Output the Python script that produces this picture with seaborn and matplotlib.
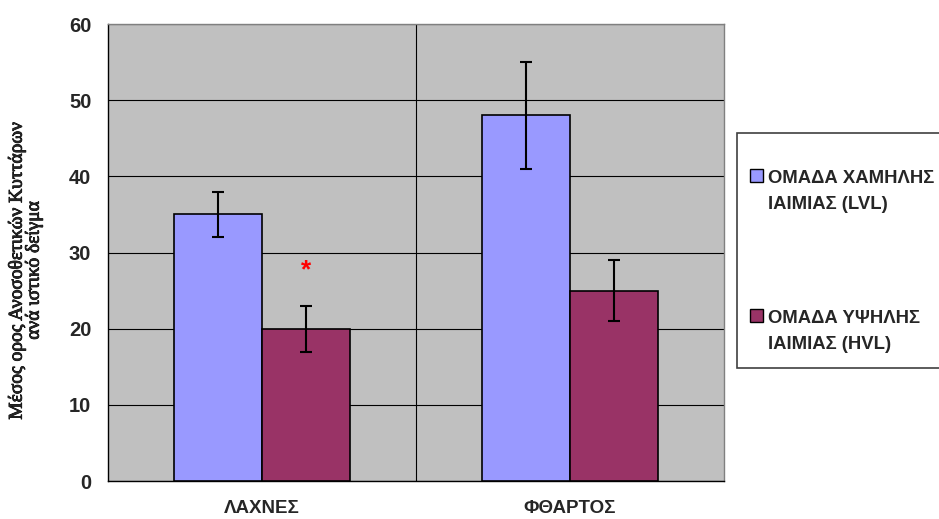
import matplotlib
matplotlib.use("Agg")
import matplotlib.pyplot as plt
import matplotlib.patheffects as pe
import seaborn as sns
import pandas as pd
from matplotlib.patches import Rectangle
from matplotlib.font_manager import FontProperties

# data
categories = ["ΛΑΧΝΕΣ", "ΦΘΑΡΤΟΣ"]
groups = ["ΟΜΑΔΑ ΧΑΜΗΛΗΣ\nΙΑΙΜΙΑΣ (LVL)", "ΟΜΑΔΑ ΥΨΗΛΗΣ\nΙΑΙΜΙΑΣ (HVL)"]
lvl_means = [35, 48]
hvl_means = [20, 25]
lvl_err = [3, 7]
hvl_err = [3, 4]
y_ticks = [0, 10, 20, 30, 40, 50, 60]
y_label = "Μέσος ορος Ανοσοθετικών Κυττάρων\nανά ιστικό δείγμα"
signif_y = 27.6  # position of the significance marker over HVL / ΛΑΧΝΕΣ

colors = ["#9999FF", "#993366"]

df = pd.DataFrame({
    "cat": categories * 2,
    "group": [groups[0]] * 2 + [groups[1]] * 2,
    "value": lvl_means + hvl_means,
    "err": lvl_err + hvl_err,
})

sns.set_style("white")
plt.rcParams["font.family"] = ["Liberation Sans", "DejaVu Sans"]

fig = plt.figure(figsize=(9.39, 5.19), dpi=100)
ax = fig.add_axes([0.115, 0.0732, 0.656, 0.8805])
ax.set_facecolor("#C0C0C0")

sns.barplot(data=df, x="cat", y="value", hue="group", palette=colors,
            order=categories, hue_order=groups, errorbar=None, saturation=1,
            width=0.571, edgecolor="black", linewidth=1.2, ax=ax, zorder=3)

# error bars on bar centres
for bars, g in zip(ax.containers, groups):
    sub = df[df["group"] == g].set_index("cat").loc[categories]
    xs = [b.get_x() + b.get_width() / 2 for b in bars]
    ax.errorbar(xs, sub["value"], yerr=sub["err"], fmt="none", ecolor="black",
                elinewidth=1.5, capsize=4.2, capthick=1.5, zorder=4)

# significance marker
hvl_bar = ax.containers[1][0]
ax.text(hvl_bar.get_x() + hvl_bar.get_width() / 2, signif_y, "*", color="red",
        ha="center", va="center", fontsize=19, fontweight="bold", zorder=5)

ax.set_xlim(-0.5, 1.5)
ax.set_ylim(0, 60)
ax.set_yticks(y_ticks)
ax.yaxis.grid(True, color="black", linewidth=0.8, zorder=0)
ax.axvline(0.5, color="black", linewidth=0.8, zorder=0)
ax.set_axisbelow(True)

ax.set_xticks([-0.5, 0.5, 1.5], minor=False)
ax.set_xticklabels([])
ax.set_xticks([0, 1], minor=True)
ax.set_xticklabels(categories, minor=True, fontsize=13.5, fontweight="bold")
ax.tick_params(axis="x", which="minor", length=0, pad=14)
ax.tick_params(axis="x", which="major", length=6, width=1, color="black", direction="out")
ax.tick_params(axis="y", length=6, width=1, color="black", direction="out",
               labelsize=14.5, pad=6)
for lbl in ax.get_yticklabels():
    lbl.set_fontweight("bold")

ax.set_xlabel("")
ylab_font = FontProperties(family=["Liberation Serif", "DejaVu Serif"], style="normal",
                           weight="normal", size=14)
ax.set_ylabel(y_label, fontproperties=ylab_font, linespacing=1.0,
              path_effects=[pe.withStroke(linewidth=0.6, foreground="black")])
ax.yaxis.set_label_coords(-0.106, 0.462)

for side in ["top", "right"]:
    ax.spines[side].set_color("#808080")
    ax.spines[side].set_linewidth(1)
for side in ["left", "bottom"]:
    ax.spines[side].set_color("black")
    ax.spines[side].set_linewidth(1)

# legend in its own framed box
handles, labels = ax.get_legend_handles_labels()
ax.get_legend().remove()
fig.patches.append(Rectangle((0.785, 0.291), 0.3, 0.453, transform=fig.transFigure,
                             facecolor="white", edgecolor="#404040", linewidth=1.2,
                             zorder=0))
leg = fig.legend(handles, labels, loc="upper left", bbox_to_anchor=(0.781, 0.705),
                 frameon=False,
                 prop=FontProperties(family=["Liberation Sans", "DejaVu Sans"],
                                     weight="bold", size=13.3),
                 handlelength=0.72, handleheight=0.72, handletextpad=0.25,
                 labelspacing=5.2)
for t in leg.get_texts():
    t.set_linespacing(1.75)
for h in leg.legend_handles:
    h.set_edgecolor("black")
    h.set_linewidth(1)
    # line the swatch up with the first line of its label
    h.set_y(h.get_y() + 11.5)

fig.savefig("out.png", dpi=100, facecolor="white")
